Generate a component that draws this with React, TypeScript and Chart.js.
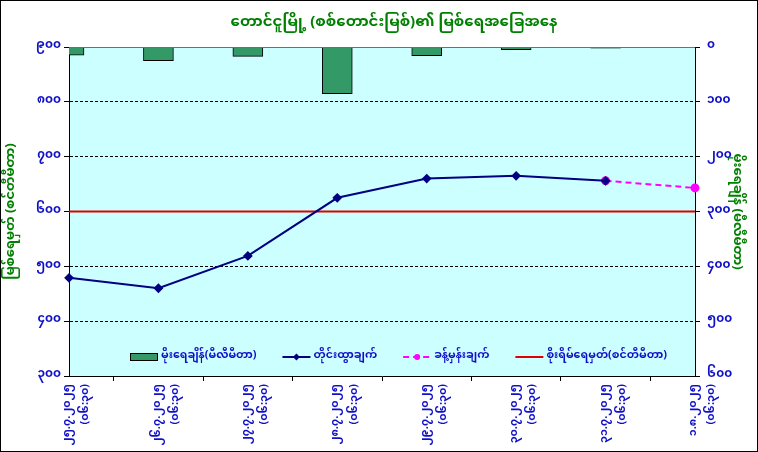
import React, { useEffect, useRef } from 'react';
import { Chart, registerables } from 'chart.js';

Chart.register(...registerables);

const dates = ['၂၅.၇.၂၀၂၅', '၂၆.၇.၂၀၂၅', '၂၇.၇.၂၀၂၅', '၂၈.၇.၂၀၂၅', '၂၉.၇.၂၀၂၅', '၃၀.၇.၂၀၂၅', '၃၁.၇.၂၀၂၅', '၁.၈.၂၀၂၅'];
const times = ['(၀၆:၃၀)', '(၀၆:၃၀)', '(၀၆:၃၀)', '(၀၆:၃၀)', '(၀၆:၃၀)', '(၀၆:၃၀)', '(၀၆:၃၀)', '(၀၆:၃၀)'];
const rainfall = [15, 25, 17, 85, 16, 5, 2, null];
const observed = [479, 460, 519, 625, 660, 665, 656, null];
const forecast = [null, null, null, null, null, null, 656, 643];
const dangerLevel = [600, 600, 600, 600, 600, 600, 600, 600];
const levelTicks = [300, 400, 500, 600, 700, 800, 900];
const rainTicks = [0, 100, 200, 300, 400, 500, 600];

const titleText = 'တောင်ငူမြို့ (စစ်တောင်းမြစ်)၏ မြစ်ရေအခြေအနေ';
const leftTitle = 'မြစ်ရေမှတ် (စင်တီမီတာ)';
const rightTitle = 'မိုးရေချိန် (မီလီမီတာ)';
const legendNames = ['မိုးရေချိန်(မီလီမီတာ)', 'တိုင်းထွာချက်', 'ခန့်မှန်းချက်', 'စိုးရိမ်ရေမှတ်(စင်တီမီတာ)'];

const FONT = "'Noto Sans Myanmar', 'Padauk', 'Myanmar Text', 'Noto Sans', sans-serif";
const BLUE = '#1010c8';
const GREEN = '#008000';

const mmDigits = ['၀', '၁', '၂', '၃', '၄', '၅', '၆', '၇', '၈', '၉'];
const toMM = (v: number) => String(v).split('').map((c) => (c >= '0' && c <= '9' ? mmDigits[+c] : c)).join('');

const framePlugin = {
  id: 'frame',
  beforeDraw(chart: any) {
    const { ctx, chartArea: a, width, height } = chart;
    ctx.save();
    ctx.fillStyle = '#ffffff';
    ctx.fillRect(0, 0, width, height);
    ctx.fillStyle = '#ccffff';
    ctx.fillRect(a.left, a.top, a.right - a.left, a.bottom - a.top);
    ctx.restore();
  },
  afterDraw(chart: any) {
    const { ctx, chartArea: a, width, height } = chart;
    ctx.save();
    ctx.strokeStyle = '#000000';
    ctx.lineWidth = 1;
    ctx.strokeRect(0.5, 0.5, width - 1, height - 1);
    ctx.strokeStyle = '#707070';
    ctx.beginPath();
    ctx.moveTo(a.left, a.top + 0.5);
    ctx.lineTo(a.right, a.top + 0.5);
    ctx.stroke();
    // title
    ctx.fillStyle = GREEN;
    ctx.font = `bold 15px ${FONT}`;
    ctx.textAlign = 'center';
    ctx.textBaseline = 'middle';
    ctx.fillText(titleText, (a.left + a.right) / 2 + 12, 24);
    ctx.restore();
  },
};

const legendPlugin = {
  id: 'inLegend',
  afterDatasetsDraw(chart: any) {
    const { ctx, chartArea: a } = chart;
    const y = a.bottom - 19;
    ctx.save();
    ctx.font = `bold 11px ${FONT}`;
    ctx.textBaseline = 'middle';
    ctx.textAlign = 'left';
    const sw = 28;
    const gapText = 3;
    const gapItem = 26;
    const widths = legendNames.map((n) => ctx.measureText(n).width);
    let x = a.left + 61;
    const ds = chart.data.datasets;
    legendNames.forEach((name, i) => {
      const d = ds[i];
      if (i === 0) {
        ctx.fillStyle = d.backgroundColor;
        ctx.fillRect(x, y - 4, sw, 8);
        ctx.strokeStyle = '#000';
        ctx.lineWidth = 1;
        ctx.strokeRect(x + 0.5, y - 3.5, sw - 1, 7);
      } else {
        ctx.strokeStyle = d.borderColor;
        ctx.lineWidth = 2;
        ctx.setLineDash(d.borderDash || []);
        ctx.beginPath();
        ctx.moveTo(x, y);
        ctx.lineTo(x + sw, y);
        ctx.stroke();
        ctx.setLineDash([]);
        if (i === 1) {
          ctx.fillStyle = d.borderColor;
          ctx.beginPath();
          ctx.moveTo(x + sw / 2, y - 3.5);
          ctx.lineTo(x + sw / 2 + 3.5, y);
          ctx.lineTo(x + sw / 2, y + 3.5);
          ctx.lineTo(x + sw / 2 - 3.5, y);
          ctx.closePath();
          ctx.fill();
        } else if (i === 2) {
          ctx.fillStyle = d.borderColor;
          ctx.beginPath();
          ctx.arc(x + sw / 2, y, 3, 0, Math.PI * 2);
          ctx.fill();
        }
      }
      ctx.fillStyle = BLUE;
      ctx.fillText(name, x + sw + gapText, y);
      x += sw + gapText + widths[i] + gapItem;
    });
    ctx.restore();
  },
};

export default function App() {
  const ref = useRef<HTMLCanvasElement>(null);
  useEffect(() => {
    if (!ref.current) return;
    const labels = dates.map((d, i) => [d, times[i]]);
    const chart = new Chart(ref.current, {
      type: 'bar',
      data: {
        labels,
        datasets: [
          {
            type: 'bar',
            label: legendNames[0],
            data: rainfall as any,
            yAxisID: 'yRain',
            backgroundColor: '#339966',
            borderColor: '#000000',
            borderWidth: 1,
            barThickness: 30,
            clip: 0 as any,
            order: 4,
          },
          {
            type: 'line',
            label: legendNames[1],
            data: observed as any,
            yAxisID: 'yLevel',
            borderColor: '#000080',
            backgroundColor: '#000080',
            borderWidth: 2,
            pointStyle: 'rectRot',
            pointRadius: 3.5,
            tension: 0,
            spanGaps: false,
            clip: false as any,
            order: 1,
          },
          {
            type: 'line',
            label: legendNames[2],
            data: forecast as any,
            yAxisID: 'yLevel',
            borderColor: '#ff00ff',
            backgroundColor: '#ff00ff',
            borderWidth: 2,
            borderDash: [6, 4],
            pointStyle: 'circle',
            pointRadius: 3.5,
            clip: false as any,
            order: 2,
          },
          {
            type: 'line',
            label: legendNames[3],
            data: dangerLevel,
            yAxisID: 'yLevel',
            borderColor: '#e00000',
            backgroundColor: '#e00000',
            borderWidth: 2,
            pointRadius: 0,
            clip: false as any,
            order: 3,
          },
        ],
      },
      options: {
        animation: false,
        responsive: false,
        maintainAspectRatio: false,
        layout: { padding: { top: 47, left: 0, right: 0, bottom: 0 } },
        plugins: {
          legend: { display: false },
          tooltip: { enabled: false },
          title: { display: false },
        },
        scales: {
          x: {
            type: 'category',
            offset: false,
            afterFit: (s: any) => { s.height = 76; },
            grid: { drawOnChartArea: false, drawTicks: true, tickLength: 5, color: '#000', tickColor: '#000' },
            border: { color: '#000', width: 1 },
            ticks: {
              autoSkip: false,
              maxRotation: 90,
              minRotation: 90,
              color: BLUE,
              padding: 3,
              font: { family: FONT, size: 11, weight: 'bold', lineHeight: 1.65 },
            },
          },
          yLevel: {
            type: 'linear',
            position: 'left',
            min: levelTicks[0],
            max: levelTicks[levelTicks.length - 1],
            afterFit: (s: any) => { s.width = 69; },
            afterBuildTicks: (s: any) => { s.ticks = levelTicks.map((v) => ({ value: v })); },
            grid: {
              color: (c: any) => (c.tick && (c.tick.value === levelTicks[0] || c.tick.value === levelTicks[levelTicks.length - 1]) ? 'rgba(0,0,0,0)' : '#000'),
              tickColor: '#000',
              tickLength: 5,
              tickBorderDash: [],
              lineWidth: 1,
            },
            border: { color: '#000', width: 1, dash: [3, 2] },
            ticks: {
              color: BLUE,
              padding: 3,
              font: { family: FONT, size: 12, weight: 'bold' },
              callback: (v: any) => toMM(v),
            },
            title: {
              display: true,
              text: leftTitle,
              color: GREEN,
              padding: { top: 5, bottom: 0 },
              font: { family: FONT, size: 13, weight: 'bold' },
            },
          },
          yRain: {
            type: 'linear',
            position: 'right',
            reverse: true,
            min: rainTicks[0],
            max: rainTicks[rainTicks.length - 1],
            afterFit: (s: any) => { s.width = 63; },
            afterBuildTicks: (s: any) => { s.ticks = rainTicks.map((v) => ({ value: v })); },
            grid: { drawOnChartArea: false, tickColor: '#000', tickLength: 5, color: '#000' },
            border: { color: '#000', width: 1 },
            ticks: {
              color: BLUE,
              padding: 7,
              font: { family: FONT, size: 12, weight: 'bold' },
              callback: (v: any) => toMM(v),
            },
            title: {
              display: true,
              text: rightTitle,
              color: GREEN,
              padding: { top: 15, bottom: 0 },
              font: { family: FONT, size: 13, weight: 'bold' },
            },
          },
        },
      },
      plugins: [framePlugin, legendPlugin],
    });
    return () => chart.destroy();
  }, []);
  return (
    <div style={{ position: 'absolute', left: 0, top: 0, width: 758, height: 452 }}>
      <canvas ref={ref} width={758} height={452} />
    </div>
  );
}
